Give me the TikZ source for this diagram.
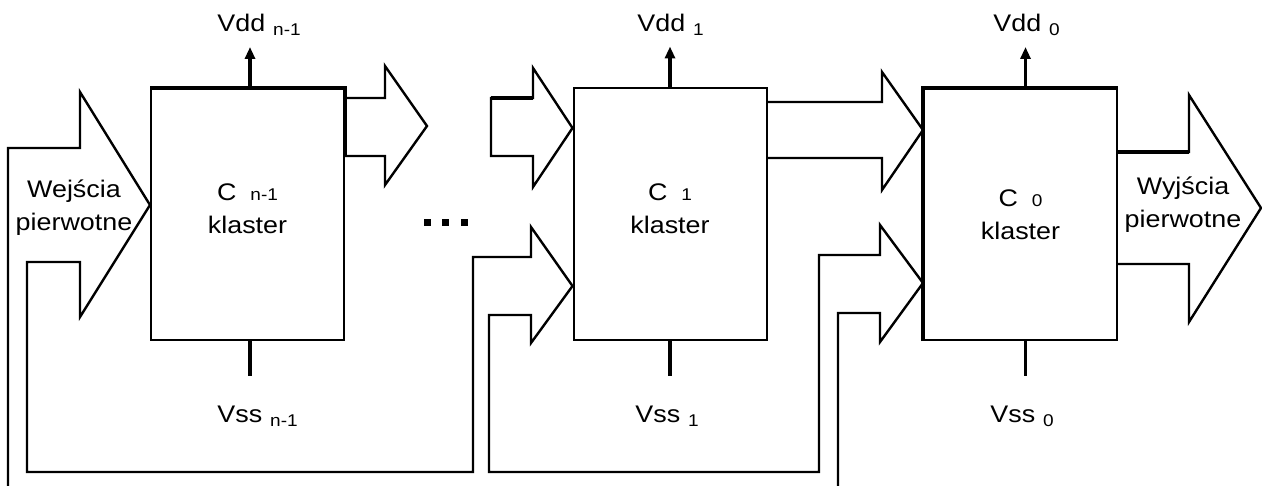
\documentclass[tikz,border=0pt]{standalone}
\usepackage{fontspec}
\setmainfont{Liberation Sans}[FakeStretch=1.12]
\usepackage{tikz}
\usetikzlibrary{arrows.meta,positioning}
\newcommand{\maly}[1]{{\fontsize{8.5}{10}\selectfont #1}}
\newcommand{\zas}[2]{#1\hspace{4pt}\raisebox{-2pt}{\maly{#2}}}

\begin{document}
\begin{tikzpicture}[x=0.5pt,y=-0.5pt,font=\fontsize{12}{16.5}\selectfont,
      >={Triangle[width=5pt,length=6pt]},
      klaster/.style={draw,line width=1pt,minimum width=96.5pt,minimum height=125.5pt,
                      align=center,inner sep=0pt,text depth=5.5pt},
      szyna/.style={line width=1.2pt,line join=miter},
      gruba/.style={line width=2.2pt},
      zasil/.style={line width=1.6pt},
      opis/.style={anchor=base west,inner sep=0pt}]
    \useasboundingbox (0,0) rectangle (1262,486);
    % klastry
    \node[klaster] (kn) at (247.5,214.5) {C\hspace{7pt}\maly{n-1}\\klaster};
    \node[klaster] (k1) at (670,214) {C\hspace{7pt}\maly{1}\\klaster};
    \node[klaster,text depth=0pt] (k0) at (1020.5,214.5) {C\hspace{7pt}\maly{0}\\klaster};
    \draw[gruba] (kn.north west) -- (kn.north east) -- ++(0,68);
    \draw[gruba] (k0.south west) -- (k0.north west) -- (k0.north east);
    % zasilanie
    \draw[zasil,->] ([xshift=1.25pt]kn.north) -- ++(0,-41);
    \draw[zasil,->] (k1.north) -- ++(0,-41);
    \draw[zasil,->] ([xshift=2.5pt]k0.north) -- ++(0,-41);
    \draw[zasil] ([xshift=1.25pt]kn.south) -- ++(0,35);
    \draw[zasil] (k1.south) -- ++(0,35);
    \draw[zasil] ([xshift=2.5pt]k0.south) -- ++(0,35);
    \node[opis] (vddn) at (217,32) {\zas{Vdd}{n-1}};
    \node[opis] (vdd1) at (637,32) {\zas{Vdd}{1}};
    \node[opis] (vdd0) at (993,32) {\zas{Vdd}{0}};
    \node[opis] (vssn) at (217,422) {\zas{Vss}{n-1}};
    \node[opis] (vss1) at (635,422) {\zas{Vss}{1}};
    \node[opis] (vss0) at (990,422) {\zas{Vss}{0}};
    % szyny
    \draw[szyna] (kn.east |- 0,98) -- (385,98) -- (385,66) -- (427,126)
                 -- (385,185) -- (385,156) -- (kn.east |- 0,156);
    \draw[szyna] (533,68) -- (k1.west |- 0,128) -- (533,187) -- (533,156)
                 -- (491,156) -- (491,98) -- (533,98) -- cycle;
    \draw[gruba] (491,98) -- (533,98);
    \draw[szyna] (k1.east |- 0,102) -- (882,102) -- (882,72) -- (k0.west |- 0,130)
                 -- (882,190) -- (882,158) -- (k1.east |- 0,158);
    \draw[szyna] (k0.east |- 0,152) -- (1189,152) -- (1189,95) -- (1261,208)
                 -- (1189,322) -- (1189,264) -- (k0.east |- 0,264);
    \draw[gruba] (k0.east |- 0,152) -- (1189,152);
    % wejscia i sprzezenie zwrotne
    \draw[szyna] (8,486) -- (8,148) -- (80,148) -- (80,92) -- (kn.west |- 0,205)
                 -- (80,317) -- (80,262) -- (27,262) -- (27,472) -- (473,472)
                 -- (473,257) -- (531,257) -- (531,227) -- (k1.west |- 0,286)
                 -- (531,343) -- (531,315) -- (489,315) -- (489,472) -- (819,472)
                 -- (819,255) -- (880,255) -- (880,225) -- (k0.west |- 0,283)
                 -- (880,342) -- (880,313) -- (838,313) -- (838,486);
    \node[align=center,inner sep=0pt] (wej) at (74,208) {Wejścia\\pierwotne};
    \node[align=center,inner sep=0pt] (wyj) at (1183,204.5) {Wyjścia\\pierwotne};
    \foreach \x in {427,445,464}
      \fill (\x-3.5,219.5) rectangle ++(7,7);
  \end{tikzpicture}
\end{document}
